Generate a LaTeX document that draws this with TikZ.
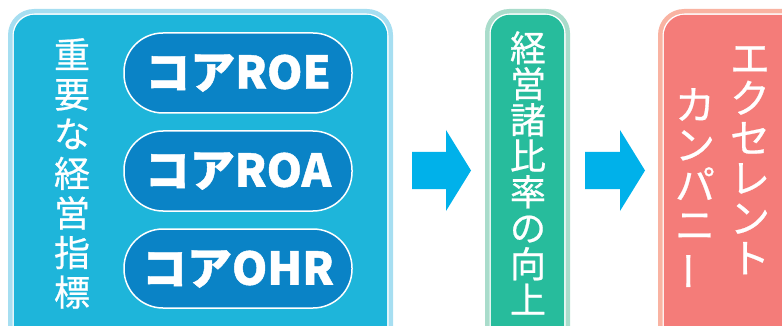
\documentclass[tikz,border=0pt]{standalone}
\usepackage{fontspec}
\newfontfamily\jp{Noto Sans CJK JP}[FakeBold=0.6]
\newfontfamily\jpb{Noto Sans CJK JP}[BoldFeatures={FakeBold=1}]
\usepackage{graphicx}
\definecolor{bluefill}{HTML}{1EB5DA}
\definecolor{blueedge}{HTML}{A6DEF1}
\definecolor{pillfill}{HTML}{0A83C6}
\definecolor{arrowc}{HTML}{00B1EA}
\definecolor{greenfill}{HTML}{27BC9C}
\definecolor{greenedge}{HTML}{A9DCCB}
\definecolor{redfill}{HTML}{F47C79}
\definecolor{rededge}{HTML}{F9B3A2}
\tikzset{
  vtext/.style={text=white, font=\jp\fontsize{35}{38.5}\selectfont, align=center, inner sep=0pt, anchor=north},
  pill/.style={fill=pillfill, draw=white, line width=1.5pt, rounded corners=39pt},
  pilltext/.style={text=white, font=\jpb\bfseries\fontsize{45}{45}\selectfont, inner sep=0pt},
  arrowshape/.style={fill=arrowc, draw=none},
}
\newcommand{\vbar}{\rotatebox[origin=c]{90}{ー}}
\begin{document}
\begin{tikzpicture}[x=1pt,y=-1pt]
\useasboundingbox (0,0) rectangle (782,326);
\clip (0,0) rectangle (782,326);
% big blue box
\fill[blueedge, rounded corners=26pt] (8,9) rectangle (393,360);
\fill[white, rounded corners=22pt] (12.5,13.5) rectangle (388.5,360);
\fill[bluefill, rounded corners=21pt] (13.8,14.8) rectangle (387.2,360);
\node[vtext, font=\jp\fontsize{36}{39.6}\selectfont] (t1) at (72,38) {重\\要\\な\\経\\営\\指\\標};
% pills
\draw[pill] (124,33) rectangle (352,113);
\draw[pill] (124,131) rectangle (352,211);
\draw[pill] (124,229) rectangle (352,308);
\node[pilltext] (p1) at (238,73) {コアROE};
\node[pilltext] (p2) at (238,171) {コアROA};
\node[pilltext] (p3) at (238,269) {コアOHR};
% arrow 1
\fill[arrowshape] (412,152) -- (446,152) -- (446,130) -- (471,170.5) -- (446,211) -- (446,189) -- (412,189) -- cycle;
% green box
\fill[greenedge, rounded corners=24pt] (485,9) rectangle (570,360);
\fill[white, rounded corners=20pt] (489.5,13.5) rectangle (565.5,360);
\fill[greenfill, rounded corners=19pt] (490.8,14.8) rectangle (564.2,360);
\node[vtext, font=\jp\fontsize{36}{36}\selectfont] (t2) at (528,31) {経\\営\\諸\\比\\率\\の\\向\\上};
% arrow 2
\fill[arrowshape] (585,152) -- (620,152) -- (620,130) -- (645,170.5) -- (620,211) -- (620,189) -- (585,189) -- cycle;
% red box
\fill[rededge, rounded corners=26pt] (658,9) rectangle (820,360);
\fill[white, rounded corners=22pt] (662.5,13.5) rectangle (815,360);
\fill[redfill, rounded corners=21pt] (663.8,14.8) rectangle (815,360);
\node[vtext, font=\jp\fontsize{40}{40}\selectfont] (t3) at (750,46) {エ\\ク\\セ\\レ\\ン\\ト};
\node[vtext, font=\jp\fontsize{40}{40}\selectfont] (t4) at (695,88) {カ\\ン\\パ\\ニ\\\vbar};
\end{tikzpicture}
\end{document}
